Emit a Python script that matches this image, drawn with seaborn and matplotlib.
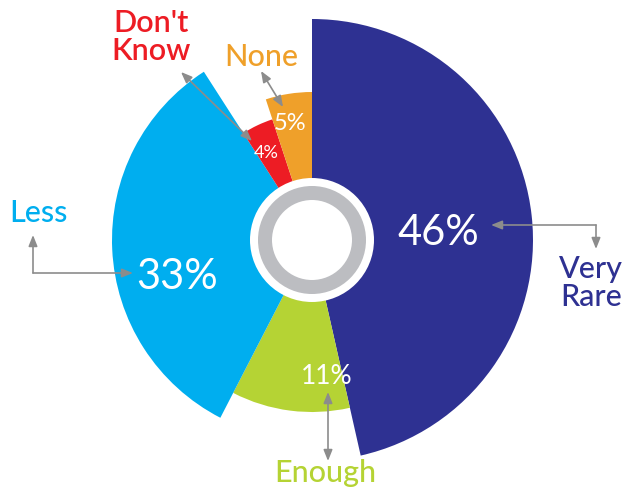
import matplotlib
matplotlib.use("Agg")
import matplotlib.pyplot as plt
from matplotlib.patches import Wedge, Circle
import numpy as np
import seaborn as sns

sns.set_theme(style="white")
plt.rcParams["font.family"] = ["Lato", "DejaVu Sans"]

# Survey answers, clockwise from 12 o'clock
categories = ["Very Rare", "Enough", "Less", "Don't Know", "None"]
values = [46, 11, 33, 4, 5]
label_text = ["Very\nRare", "Enough", "Less", "Don't\nKnow", "None"]
colors = ["#2E3192", "#B5D334", "#00AEEF", "#ED1C24", "#EFA02A"]
radii = [221, 172, 200, 127, 148]  # outer radius of each slice (px)

W, H = 626, 496
fig = plt.figure(figsize=(W / 100, H / 100), dpi=100)
ax = fig.add_axes([0, 0, 1, 1])
ax.set_xlim(0, W)
ax.set_ylim(0, H)
ax.set_aspect("equal")
ax.axis("off")


def P(x, y):
    """Pixel position measured from the top-left corner -> data coords."""
    return (x, H - y)


cx, cy = P(312, 240)
total = float(sum(values))
start = 0.0
for v, c, r in zip(values, colors, radii):
    frac0 = start / total
    frac1 = (start + v) / total
    t1 = 90 - frac0 * 360
    t0 = 90 - frac1 * 360
    ax.add_patch(Wedge((cx, cy), r, t0, t1, facecolor=c, edgecolor="none"))
    start += v

# central disc and ring
ax.add_patch(Circle((cx, cy), 62, facecolor="white", edgecolor="none", zorder=3))
ax.add_patch(Circle((cx, cy), 47, facecolor="none", edgecolor="#BCBDC1",
                    linewidth=14 * 0.72, zorder=4))

# percentage labels inside slices
pct_pos = [(438, 233), (327, 377), (177, 277), (266, 153), (290, 124)]
pct_size = [30, 19, 30, 13, 17]
for v, (x, y), s in zip(values, pct_pos, pct_size):
    ax.text(*P(x, y), f"{v}%", color="white", fontsize=s, fontweight="normal",
            ha="center", va="center", zorder=5)

# category labels
name_pos = [(591, 283), (325, 473), (38, 213), (151, 37), (261, 57)]
name_weight = ["medium", "medium", "medium", "semibold", "medium"]
for t, c, (x, y), wgt in zip(label_text, colors, name_pos, name_weight):
    ax.text(*P(x, y), t, color=c, fontsize=22, fontweight=wgt, ha="center",
            va="center", linespacing=1.0, zorder=5)

# leader arrows
grey = "#8C8C8C"
head = dict(arrowstyle="-|>,head_length=0.55,head_width=0.22", color=grey,
            lw=1.2, shrinkA=0, shrinkB=0)
both = dict(arrowstyle="<|-|>,head_length=0.55,head_width=0.22", color=grey,
            lw=1.2, shrinkA=0, shrinkB=0)


def arrow(a, b, props):
    ax.annotate("", xy=P(*b), xytext=P(*a), arrowprops=props, zorder=6)


# Very Rare: elbow
arrow((596, 225), (491, 225), head)
arrow((596, 225), (596, 249), head)
# Less: elbow
arrow((33, 273), (33, 235), head)
arrow((33, 273), (133, 273), head)
# Enough
arrow((328, 392), (328, 461), both)
# Don't Know
arrow((181, 72), (252, 141), both)
# None
arrow((261, 71), (283, 107), both)

fig.savefig("out.png", dpi=100, facecolor="white")
